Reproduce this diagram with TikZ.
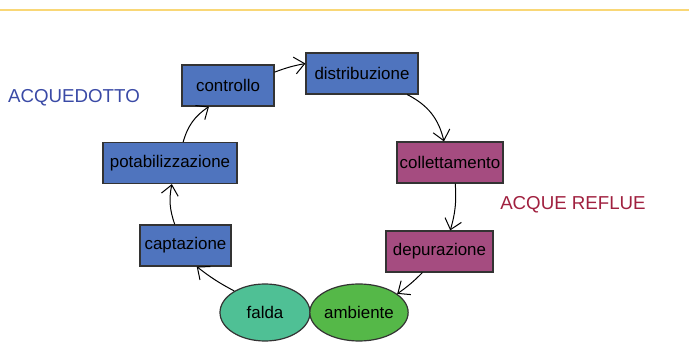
\documentclass[tikz,border=0pt]{standalone}
\usepackage{fontspec}
\setmainfont{Liberation Sans}
\usetikzlibrary{arrows.meta,shapes.geometric}
\definecolor{boxblue}{HTML}{4F74BE}
\definecolor{boxplum}{HTML}{A54C80}
\definecolor{faldagreen}{HTML}{4FC095}
\definecolor{ambgreen}{HTML}{55B848}
\definecolor{titleblue}{HTML}{3A4AA6}
\definecolor{titlered}{HTML}{A0203F}
\definecolor{topline}{HTML}{F9D776}

\begin{document}
\begin{tikzpicture}[x=1pt,y=-1pt,
    box/.style={draw=black!80,line width=1.2pt,minimum height=41pt,inner sep=0pt,font=\fontsize{16.9}{20}\selectfont},
    blob/.style={ellipse,draw=black!80,line width=1.2pt,minimum height=57pt,inner sep=0pt,font=\fontsize{16.9}{20}\selectfont},
    sidetitle/.style={inner sep=0pt,font=\fontsize{18.7}{22}\selectfont},
    flow/.style={-{Straight Barb[length=10pt,width=17pt]},line width=1pt}]
        \useasboundingbox (0,0) rectangle (689,352);
        % top rule
        \draw[topline,line width=1.6pt] (0,10) -- (689,10);
        % water cycle
        \node[box,fill=boxblue,minimum width=92pt] (ctrl) at (228,85.5) {controllo};
        \node[box,fill=boxblue,minimum width=112pt] (distr) at (362,73.5) {distribuzione};
        \node[box,fill=boxblue,minimum width=134pt] (potab) at (170,163) {potabilizzazione};
        \node[box,fill=boxplum,minimum width=106pt] (coll) at (450,162.5) {collettamento};
        \node[box,fill=boxblue,minimum width=91pt] (capt) at (185.5,245.5) {captazione};
        \node[box,fill=boxplum,minimum width=107pt] (dep) at (439.5,251.5) {depurazione};
        \node[blob,fill=faldagreen,minimum width=90pt] (falda) at (265,312.5) {falda};
        \node[blob,fill=ambgreen,minimum width=96pt] (amb) at (359,312.5) {ambiente};
        \node[sidetitle,text=titleblue] (aqued) at (74,97.5) {ACQUEDOTTO};
        \node[sidetitle,text=titlered] (reflue) at (573,205) {ACQUE REFLUE};
        \draw[flow] (capt.117) to[bend left=15] (potab.275);
        \draw[flow] (potab.58) to[bend left=20] (ctrl.228);
        \draw[flow] (ctrl.16) to[bend left=5] (distr.170);
        \draw[flow] (distr.335) to[bend left=25] (coll.106);
        \draw[flow] (coll.284) to[bend left=10] (dep.63);
        \draw[flow] (dep.231) to[bend left=5] (amb.26);
        \draw[flow] (falda.145) to[bend left=5] (capt.298);
    \end{tikzpicture}
\end{document}
